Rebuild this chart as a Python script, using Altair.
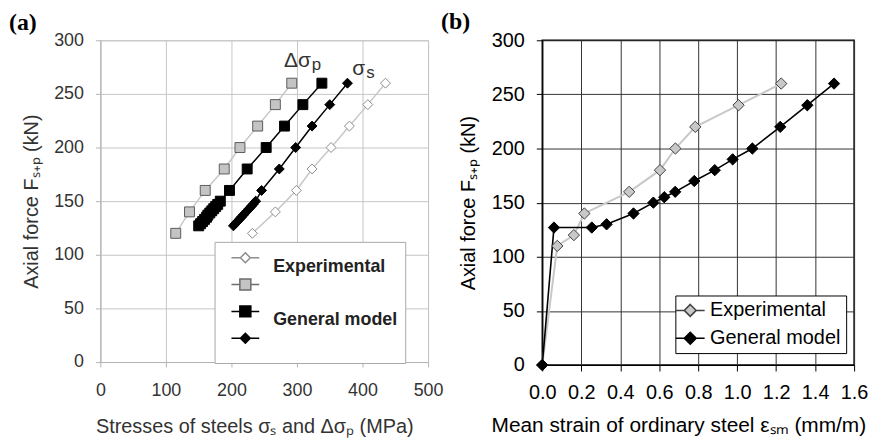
import altair as alt
import pandas as pd

FONT = "Liberation Sans"

# ---------------- Panel (a) data ----------------
force_exp_a = [120, 140, 160, 180, 200, 220, 240, 260]
exp_sigma_s = [232, 267, 299, 323, 352, 380, 408, 435]
exp_dsigma_p = [115, 136, 160, 189, 213, 240, 267, 292]

force_gm_a = [127, 129, 131, 133, 135, 137, 139, 141, 143, 145, 147, 150,
              160, 180, 200, 220, 240, 260]
gm_dsigma_p = [150, 153, 156, 159, 162, 164, 167, 170, 173, 176, 179, 183,
               197, 224, 253, 281, 309, 338]
gm_sigma_s = [203, 206, 209, 212, 215, 218, 221, 224, 227, 230, 233, 237,
              246, 273, 298, 323, 350, 377]

series_a = ["Experimental σs", "Experimental Δσp", "General model Δσp", "General model σs"]
legend_labels_a = ["Experimental", "", "General model", ""]
x_ticks_a = [0, 100, 200, 300, 400, 500]
y_ticks = [0, 50, 100, 150, 200, 250, 300]

annot_a = ["Δσ", "σ"]
annot_sub_a = ["p", "s"]
annot_x_a = [321, 404]
annot_y_a = [275, 268]

# ---------------- Panel (b) data ----------------
strain_exp = [0.0, 0.077, 0.162, 0.216, 0.446, 0.604, 0.683, 0.785, 1.007, 1.226]
force_exp_b = [0, 110, 120, 140, 160, 180, 200, 220, 240, 260]
strain_gm = [0.0, 0.06, 0.254, 0.33, 0.468, 0.57, 0.626, 0.682, 0.78, 0.885,
             0.977, 1.078, 1.221, 1.36, 1.497]
force_gm_b = [0, 127, 127, 130, 140, 150, 155, 160, 170, 180, 190, 200, 220, 240, 260]
series_b = ["Experimental", "General model"]
x_ticks_b = [0.0, 0.2, 0.4, 0.6, 0.8, 1.0, 1.2, 1.4, 1.6]

# ---------------- tables ----------------
rows_a = []
for name, xs, ys in [(series_a[0], exp_sigma_s, force_exp_a),
                     (series_a[1], exp_dsigma_p, force_exp_a),
                     (series_a[2], gm_dsigma_p, force_gm_a),
                     (series_a[3], gm_sigma_s, force_gm_a)]:
    for i, (xv, yv) in enumerate(zip(xs, ys)):
        rows_a.append({"series": name, "stress": xv, "force": yv, "idx": i})
df_a = pd.DataFrame(rows_a)

rows_b = []
for name, xs, ys in [(series_b[0], strain_exp, force_exp_b),
                     (series_b[1], strain_gm, force_gm_b)]:
    for i, (xv, yv) in enumerate(zip(xs, ys)):
        rows_b.append({"series": name, "strain": xv, "force": yv, "idx": i})
df_b = pd.DataFrame(rows_b)

ann_df = pd.DataFrame({"stress": annot_x_a, "force": annot_y_a,
                       "t": annot_a, "sub": annot_sub_a})

# ---------------- panel (a) ----------------
xa = alt.X("stress:Q", scale=alt.Scale(domain=[0, 500], nice=False),
           axis=alt.Axis(values=x_ticks_a, title="Stresses of steels σₛ and Δσₚ (MPa)",
                         grid=True, gridColor="#c6c6c6", domainColor="#b4b4b4",
                         tickColor="#b4b4b4", tickSize=5, labelFont=FONT,
                         labelFontSize=18, labelColor="#333333", labelPadding=15,
                         labelFlush=False, labelOverlap=False,
                         titleFont=FONT, titleFontSize=20, titleFontWeight="normal",
                         titleColor="#333333", titleX=155, titleY=71,
                         titleBaseline="alphabetic"))
ya = alt.Y("force:Q", scale=alt.Scale(domain=[0, 300], nice=False),
           axis=alt.Axis(values=y_ticks, title="Axial force Fₛ₊ₚ (kN)",
                         grid=True, gridColor="#c6c6c6", domainColor="#b4b4b4",
                         tickColor="#b4b4b4", tickSize=5, labelFont=FONT,
                         labelFontSize=18, labelColor="#333333", labelPadding=12,
                         labelFlush=False, labelOverlap=False,
                         titleFont=FONT, titleFontSize=20, titleFontWeight="normal",
                         titleColor="#333333", titleX=-63,
                         titleBaseline="alphabetic"))

lines_a = alt.Chart(df_a).mark_line(strokeWidth=1.5).encode(
    x=xa, y=ya, order="idx:Q",
    color=alt.Color("series:N", scale=alt.Scale(domain=series_a,
                    range=["#c8c8c8", "#c8c8c8", "#000000", "#000000"]), legend=None))

points_a = alt.Chart(df_a).mark_point(filled=True, size=100, strokeWidth=1, opacity=1).encode(
    x=xa, y=ya,
    shape=alt.Shape("series:N", scale=alt.Scale(domain=series_a,
                    range=["diamond", "square", "square", "diamond"]), legend=None),
    fill=alt.Fill("series:N", scale=alt.Scale(domain=series_a,
                  range=["#ffffff", "#c4c4c4", "#000000", "#000000"]), legend=None),
    stroke=alt.Stroke("series:N", scale=alt.Scale(domain=series_a,
                      range=["#8c8c8c", "#5c5c5c", "#000000", "#000000"]), legend=None))

pd_a = "M-2,0L-0.71,0M0,-0.71L0.71,0L0,0.71L-0.71,0ZM0.71,0L2,0"
ps_a = "M-2,0L-0.79,0M-0.79,-0.79L0.79,-0.79L0.79,0.79L-0.79,0.79ZM0.79,0L2,0"

label_expr_a = " : ".join(
    [f"datum.label == '{s}' ? '{l}'" for s, l in zip(series_a, legend_labels_a)]) + " : ''"

leg_a = alt.Legend(title=".", titleOrient="left", titlePadding=9, titleFontSize=18,
                   titleColor="transparent",
                   orient="none", legendX=115, legendY=203, padding=7,
                   strokeColor="#a8a8a8", fillColor="white", symbolSize=196,
                   symbolStrokeWidth=1.5, labelFont=FONT, labelFontSize=18,
                   labelFontWeight="bold", labelColor="#222222", labelBaseline="top",
                   labelOffset=19, rowPadding=0, labelExpr=label_expr_a)

legend_layer_a = alt.Chart(df_a).transform_filter("false").mark_point(
    filled=True, opacity=1).encode(
    x=xa, y=ya,
    shape=alt.Shape("series:N", scale=alt.Scale(domain=series_a,
                    range=[pd_a, ps_a, ps_a, pd_a]), legend=leg_a),
    fill=alt.Fill("series:N", scale=alt.Scale(domain=series_a,
                  range=["#ffffff", "#c4c4c4", "#000000", "#000000"]), legend=leg_a),
    stroke=alt.Stroke("series:N", scale=alt.Scale(domain=series_a,
                      range=["#8c8c8c", "#6c6c6c", "#000000", "#000000"]), legend=leg_a))

txt_a = alt.Chart(ann_df).mark_text(align="right", baseline="alphabetic", font=FONT,
                                    fontSize=21, color="#333333").encode(
    x=xa, y=ya, text="t:N")
sub_a = alt.Chart(ann_df).mark_text(align="left", baseline="alphabetic", font=FONT,
                                    fontSize=17, color="#333333", dx=1, dy=3).encode(
    x=xa, y=ya, text="sub:N")

chart_a = alt.layer(lines_a, points_a, legend_layer_a, txt_a, sub_a).resolve_scale(
    shape="independent", fill="independent", stroke="independent"
).properties(
    width=330, height=324,
    view=alt.ViewBackground(stroke="#c6c6c6"),
    title=alt.TitleParams("(a)", font="Liberation Serif", fontSize=24, fontWeight="bold",
                          anchor="start", frame="group", dx=-92, offset=-28,
                          baseline="bottom", color="black"))

# ---------------- panel (b) ----------------
xb = alt.X("strain:Q", scale=alt.Scale(domain=[0, 1.6], nice=False),
           axis=alt.Axis(values=x_ticks_b, format=".1f",
                         title="Mean strain of ordinary steel εₛₘ (mm/m)",
                         grid=True, gridColor="#333333", domainColor="#000000",
                         tickColor="#000000", tickSize=6, labelFont=FONT,
                         labelFontSize=20, labelColor="#000000", labelPadding=12,
                         labelFlush=False, labelOverlap=False,
                         titleFont=FONT, titleFontSize=21, titleFontWeight="normal",
                         titleColor="#000000", titleX=137, titleY=67,
                         titleBaseline="alphabetic"))
yb = alt.Y("force:Q", scale=alt.Scale(domain=[0, 300], nice=False),
           axis=alt.Axis(values=y_ticks, title="Axial force Fₛ₊ₚ (kN)",
                         grid=True, gridColor="#333333", domainColor="#000000",
                         tickColor="#000000", tickSize=6, labelFont=FONT,
                         labelFontSize=20, labelColor="#000000", labelPadding=12,
                         labelFlush=False, labelOverlap=False,
                         titleFont=FONT, titleFontSize=20, titleFontWeight="normal",
                         titleColor="#000000", titleX=-68,
                         titleBaseline="alphabetic"))

df_b_exp = df_b[df_b["series"] == series_b[0]]
df_b_gm = df_b[df_b["series"] == series_b[1]]

line_b_exp = alt.Chart(df_b_exp).mark_line(color="#c8c8c8", strokeWidth=2).encode(
    x=xb, y=yb, order="idx:Q")
line_b_gm = alt.Chart(df_b_gm).mark_line(color="#000000", strokeWidth=1.6).encode(
    x=xb, y=yb, order="idx:Q")

points_b = alt.Chart(df_b).mark_point(filled=True, size=130, strokeWidth=1, opacity=1).encode(
    x=xb, y=yb,
    shape=alt.Shape("series:N", scale=alt.Scale(domain=series_b,
                    range=["diamond", "diamond"]), legend=None),
    fill=alt.Fill("series:N", scale=alt.Scale(domain=series_b,
                  range=["#c8c8c8", "#000000"]), legend=None),
    stroke=alt.Stroke("series:N", scale=alt.Scale(domain=series_b,
                      range=["#404040", "#000000"]), legend=None))

pd_b = "M-2.07,0L-0.86,0M0,-0.86L0.86,0L0,0.86L-0.86,0ZM0.86,0L2.07,0"
leg_b = alt.Legend(title=None, orient="none", legendX=134, legendY=257, padding=5,
                   strokeColor="#000000", fillColor="white", symbolSize=196,
                   symbolStrokeWidth=1.5, labelFont=FONT, labelFontSize=20,
                   labelColor="#000000", labelOffset=10, rowPadding=8)

legend_layer_b = alt.Chart(df_b).transform_filter("false").mark_point(
    filled=True, opacity=1).encode(
    x=xb, y=yb,
    shape=alt.Shape("series:N", scale=alt.Scale(domain=series_b,
                    range=[pd_b, pd_b]), legend=leg_b),
    fill=alt.Fill("series:N", scale=alt.Scale(domain=series_b,
                  range=["#c8c8c8", "#000000"]), legend=leg_b),
    stroke=alt.Stroke("series:N", scale=alt.Scale(domain=series_b,
                      range=["#404040", "#000000"]), legend=leg_b))

chart_b = alt.layer(line_b_exp, line_b_gm, points_b, legend_layer_b).resolve_scale(
    shape="independent", fill="independent", stroke="independent"
).properties(
    width=314, height=327,
    view=alt.ViewBackground(stroke="#000000", strokeWidth=1.5),
    title=alt.TitleParams("(b)", font="Liberation Serif", fontSize=24, fontWeight="bold",
                          anchor="start", frame="group", dx=-102, offset=-28,
                          baseline="bottom", color="black"))

chart = alt.hconcat(chart_a, chart_b, spacing=115, bounds="flush").properties(
    padding=0).configure(font=FONT)

chart.save("out.html", embed_options={"renderer": "svg", "actions": False})
